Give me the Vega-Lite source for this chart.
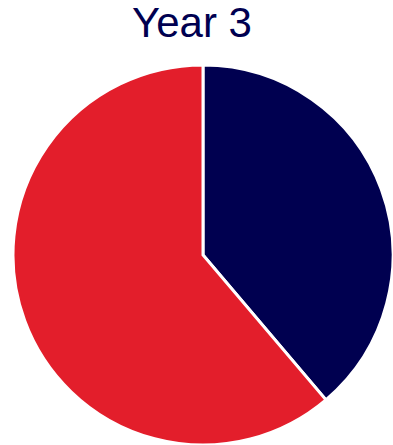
{
  "$schema": "https://vega.github.io/schema/vega-lite/v6.json",
  "autosize": "none",
  "padding": {"left": 13, "top": 65, "right": 0, "bottom": 0},
  "width": 380,
  "height": 380,
  "background": "white",
  "title": {
    "text": "Year 3",
    "font": "Liberation Sans",
    "fontSize": 42,
    "fontWeight": "normal",
    "color": "#000050",
    "anchor": "middle",
    "frame": "group",
    "offset": 13,
    "dx": -11
  },
  "data": {
    "values": [
      {"category": "A", "value": 38.8, "order": 1},
      {"category": "B", "value": 61.2, "order": 2}
    ]
  },
  "mark": {"type": "arc", "outerRadius": 190, "stroke": "white", "strokeWidth": 3},
  "encoding": {
    "theta": {"field": "value", "type": "quantitative", "stack": true},
    "order": {"field": "order", "type": "quantitative"},
    "color": {
      "field": "category",
      "type": "nominal",
      "scale": {"domain": ["A", "B"], "range": ["#000050", "#e31e2b"]},
      "legend": null
    }
  },
  "config": {"view": {"stroke": null}}
}
